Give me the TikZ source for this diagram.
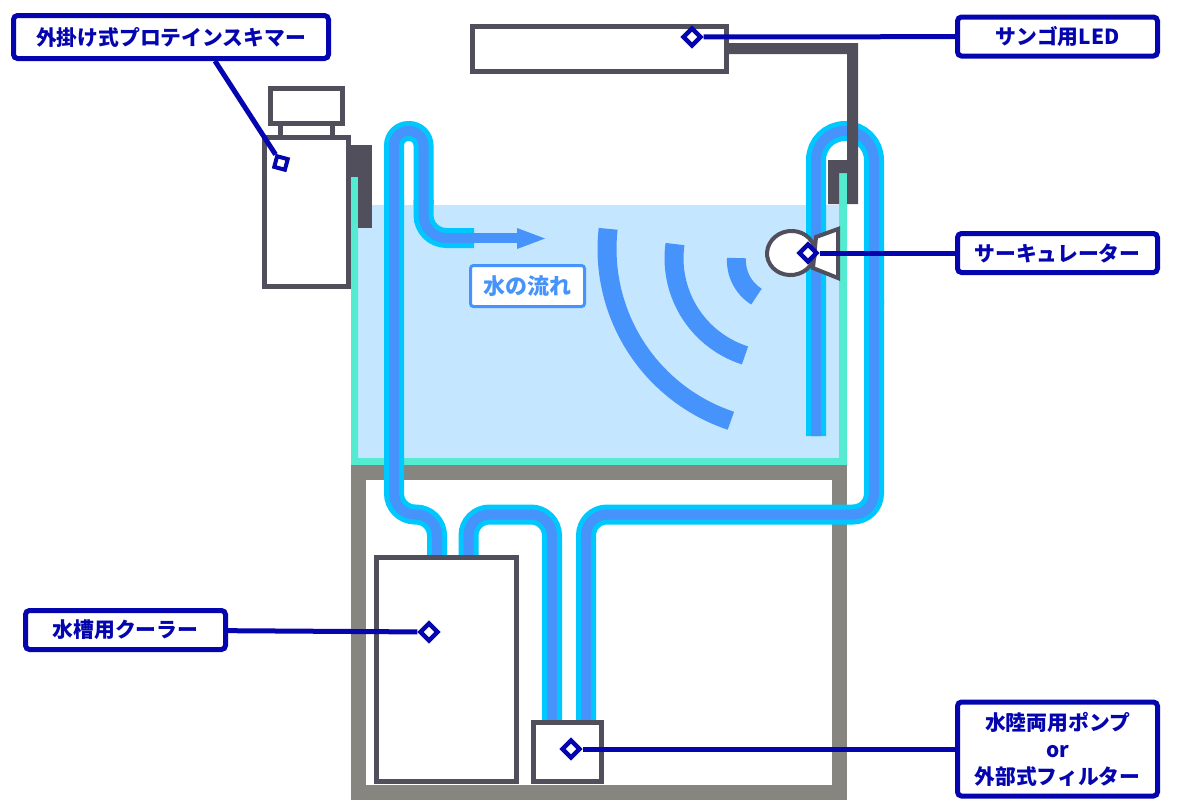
\documentclass[tikz,border=0pt]{standalone}
\usepackage{fontspec}
\setmainfont{Noto Sans CJK JP}
\usetikzlibrary{calc,positioning,shapes.geometric}
\definecolor{callblue}{HTML}{0505B0}
\definecolor{flowblue}{HTML}{4693FB}
\definecolor{pipecyan}{HTML}{00C8FF}
\definecolor{waterblue}{HTML}{C5E6FF}
\definecolor{glassteal}{HTML}{55EBD0}
\definecolor{standgray}{HTML}{878580}
\definecolor{unitdark}{HTML}{514F5B}

\begin{document}
\begin{tikzpicture}[x=0.5pt,y=-0.5pt,
	unit/.style={draw=unitdark,line width=2.5pt,fill=white},
	darkpart/.style={fill=unitdark,draw=none},
	pipe/.style={draw=pipecyan,line width=2.5pt,double=flowblue,double distance=5pt,rounded corners=10.5pt},
	wave/.style={draw=flowblue,line width=9.5pt},
	callbox/.style={draw=callblue,line width=2.5pt,fill=white,rounded corners=2pt,inner sep=0pt,text=callblue,font=\fontsize{10.4}{13.5}\selectfont\bfseries,align=center},
	callmark/.style={draw=callblue,line width=2.2pt,fill=white,diamond,inner sep=0pt,minimum size=9.5pt},
	callline/.style={draw=callblue,line width=2.5pt}]
	\useasboundingbox (0,0) rectangle (1200,800);

	\fill[waterblue] (358,205) rectangle (841,458);
	\fill[glassteal] (351,177) -- (358,177) -- (358,458) -- (839,458) -- (839,173) -- (847,173) -- (847,465) -- (351,465) -- cycle;
	\draw[draw=standgray,line width=7.5pt] (358.5,472.5) rectangle (839,792);

	\foreach \x in {278,330} \fill[unitdark] (\x,124) rectangle (\x+5,137);
	\draw[unit] (270.5,88.5) rectangle (342.5,123.5);
	\draw[unit] (264.5,137.5) rectangle (348.5,286.5);
	\path[darkpart] (349,145) rectangle (372,228);
	\fill[glassteal] (351,177) rectangle (358,228);

	\draw[pipe,rounded corners=11.5pt] (474,238) -- (423.5,238) -- (423.5,200);
	\draw[pipe,rounded corners=7.25pt] (423.5,205) -- (423.5,131) -- (394,131) -- (394,205);
	\draw[pipe] (394,200) -- (394,514.5) -- (437,514.5) -- (437,556);
	\draw[pipe] (468.5,556) -- (468.5,514.5) -- (552,514.5) -- (552,722);
	\path[draw=flowblue,line width=5pt] (474,238) -- (520,238);
	\fill[flowblue] (517,228) -- (545,238.5) -- (517,249) -- cycle;
	\draw[pipe] (586,722) -- (586,514.5) -- (874,514.5) -- (874,300);
	\draw[pipe,rounded corners=14.5pt] (874,305) -- (874,131) -- (816,131) -- (816,436);

	\draw[unit] (472.5,26.5) rectangle (726.5,71.5);
	\path[darkpart] (729,43) -- (858,43) -- (858,204) -- (847,204) -- (847,173) -- (839,173) -- (839,204) -- (828,204) -- (828,160) -- (847,160) -- (847,54) -- (729,54) -- cycle;

	\draw[wave,shift={(788,249)}] plot[domain=186.4:108.4,samples=40] (\x:181);
	\draw[wave,shift={(776,258.25)}] plot[domain=188:107.7,samples=30] (\x:102);
	\draw[wave,shift={(779.1,260.4)}] plot[domain=183.2:122,samples=20] (\x:42.7);

	\draw[unit,line width=2pt,line join=miter] (816,237) -- (838,229) -- (838,278) -- (813,268) -- cycle;
	\node[ellipse,draw=unitdark,line width=2pt,fill=white,minimum width=24pt,minimum height=22pt,inner sep=0pt,rotate=8] (pumpbody) at (791,253) {};

	\draw[unit] (376.5,557.5) rectangle (516.5,781.5);
	\draw[unit] (533.5,722.5) rectangle (601.5,781.5);

	\node[draw=flowblue,line width=1.5pt,fill=white,rounded corners=1.5pt,text=flowblue,font=\fontsize{11}{12}\selectfont\bfseries,minimum width=57pt,minimum height=20.5pt,inner sep=0pt] (flowlabel) at (527.5,286) {水の流れ};

	\node[callbox,minimum width=157.5pt,minimum height=21.5pt] (skimlabel) at (171,37) {外掛け式プロテインスキマー};
	\node[callbox,minimum width=100pt,minimum height=19.5pt] (ledlabel) at (1057.5,36.5) {サンゴ用LED};
	\node[callbox,minimum width=100pt,minimum height=19.5pt] (circlabel) at (1057.5,253) {サーキュレーター};
	\node[callbox,minimum width=100pt,minimum height=19.5pt] (coollabel) at (125.5,630) {水槽用クーラー};
	\node[callbox,minimum width=100pt,minimum height=47pt] (pumplabel) at (1057.5,749) {水陸両用ポンプ\\or\\外部式フィルター};

	\node[callmark,rectangle,line width=2pt,minimum size=5.5pt,rotate=-15] (skimmark) at (281,163) {};
	\node[callmark] (ledmark) at (692,37) {};
	\node[callmark] (circmark) at (808,253) {};
	\node[callmark] (coolmark) at (429,632) {};
	\node[callmark] (pumpmark) at (571,749) {};

	\draw[callline] ([xshift=22pt]skimlabel.south) -- (skimmark);
	\draw[callline] (ledlabel) -- (ledmark);
	\draw[callline] (circlabel) -- (circmark);
	\draw[callline] (coollabel) -- (coolmark);
	\draw[callline] (pumplabel) -- (pumpmark);
\end{tikzpicture}
\end{document}
